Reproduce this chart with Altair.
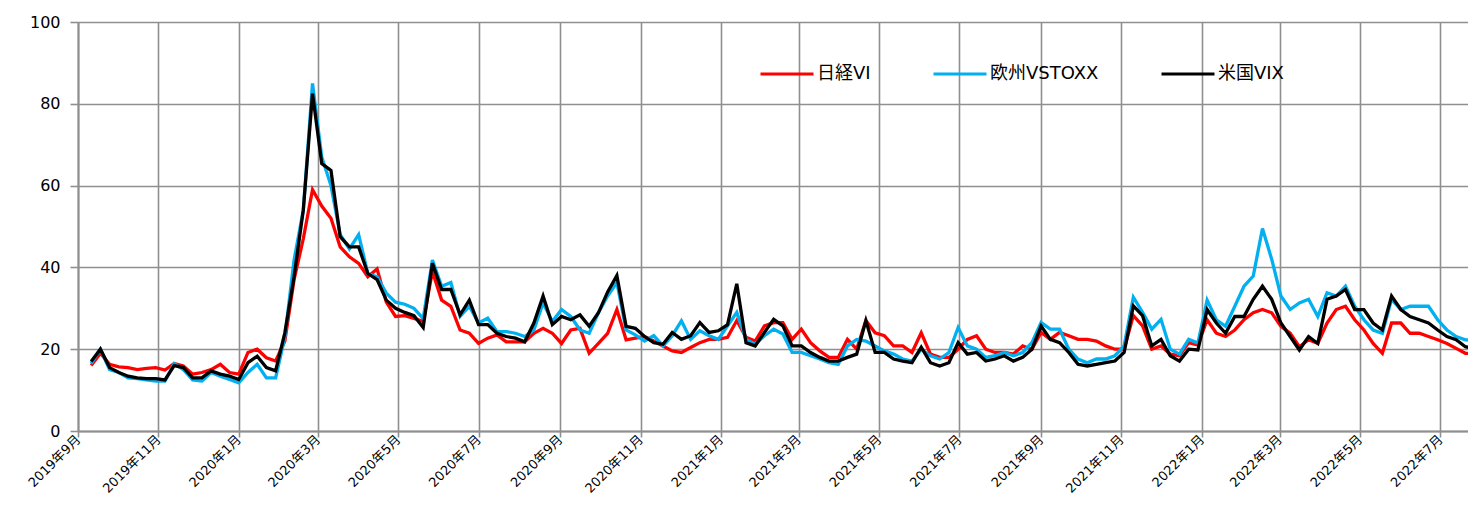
import altair as alt
import pandas as pd

# ---- data (weekly samples) ----
start_date = "2019-09-11"
series_names = ["日経VI", "欧州VSTOXX", "米国VIX"]
series_colors = ["#ff0000", "#00b0f0", "#000000"]

nikkei_vi = [16, 19, 16.3, 15.7, 15.5, 15, 15.3, 15.5, 14.9, 16.5,
             15.9, 13.9, 14.3, 15, 16.3, 14.3, 13.9, 19.2, 20, 17.9,
             17.1, 22, 37, 47, 59, 55, 52, 45, 42.6, 41,
             37.7, 39.6, 31.5, 28, 28.2, 27.5, 26.8, 39, 32, 30.5,
             24.7, 23.9, 21.4, 22.7, 23.5, 21.8, 21.8, 21.8, 23.9, 25.1,
             23.9, 21.4, 24.7, 25.1, 19, 21.4, 23.9, 29.7, 22.3, 22.7,
             23.1, 22, 20.8, 19.6, 19.2, 20.4, 21.6, 22.4, 22.4, 22.9,
             27, 22.9, 22, 25.7, 26.5, 26.5, 22.4, 24.9, 21.6, 19.6,
             18, 18, 22.4, 20, 27, 24, 23.3, 20.8, 20.8, 19.2,
             24, 18.8, 18, 18, 20, 22.4, 23.3, 20, 19.2, 19.2,
             18.8, 20.8, 20, 24.1, 22.4, 24.1, 23.3, 22.4, 22.4, 22,
             20.8, 20, 20, 28.2, 25.7, 20, 20.8, 18.8, 18.4, 21.6,
             21, 27.2, 23.9, 23.1, 24.7, 27.2, 28.9, 29.7, 28.9, 25.6,
             23.9, 20.6, 22.3, 21.4, 26.4, 29.7, 30.5, 27.2, 24.7, 21.4,
             19, 26.4, 26.4, 23.9, 23.9, 23.1, 22.3, 21.4, 20.2, 19,
             19]

vstoxx = [16.5, 20, 15, 14.3, 13, 12.8, 12.5, 12.2, 12.2, 16.5,
          15, 12.5, 12.2, 14.3, 13.4, 12.6, 11.8, 14.3, 16.3, 13,
          13, 23, 41.8, 54, 85, 67, 60, 48, 44.5, 48,
          38.5, 37.7, 33.7, 31.5, 31, 30, 27.5, 41.8, 35.4, 36.3,
          28, 30.5, 26.4, 27.6, 24.3, 24.3, 23.9, 23.1, 24.7, 31.3,
          26.8, 29.7, 28, 24.7, 23.9, 28.9, 33, 36.3, 24.7, 23.5,
          22, 23.3, 20.8, 23.3, 26.9, 22.4, 24.5, 23.3, 22.4, 25.7,
          29, 22.4, 21.2, 23.3, 24.9, 23.7, 19.2, 19.2, 18.4, 17.6,
          16.7, 16.3, 20.8, 22.4, 22, 20.8, 19.6, 18.8, 17.6, 17.1,
          20, 18.4, 17.6, 19.2, 25.3, 20.8, 20, 18, 18.4, 19.2,
          18.4, 19.2, 21.6, 26.5, 24.9, 24.9, 20, 17.6, 16.7, 17.6,
          17.6, 18.4, 20.8, 32.7, 29, 24.9, 27.3, 20, 18.8, 22.4,
          21.5, 32, 27.2, 25.6, 30.5, 35.4, 37.9, 49.5, 42, 33,
          29.7, 31.3, 32.2, 28, 33.8, 33, 35.4, 30.5, 27.2, 24.7,
          23.9, 32.2, 29.7, 30.5, 30.5, 30.5, 27.2, 24.7, 23.1, 22.3,
          22.3]

vix = [17, 20, 15.5, 14.3, 13.4, 13, 12.8, 12.8, 12.5, 16,
       15.5, 13, 13, 14.7, 13.9, 13.4, 12.6, 16.7, 18.3, 15.5,
       14.7, 24, 37.7, 54, 82.5, 65.4, 63.7, 47.5, 45, 45,
       38.5, 37, 32, 30, 29, 28.2, 25.3, 41, 34.6, 34.6,
       28.4, 32, 26, 26, 23.9, 23.1, 22.7, 21.8, 26.4, 33,
       26, 28, 27.2, 28.4, 25.6, 28.9, 34, 38, 25.6, 25.1,
       23.1, 21.6, 21.2, 24.1, 22.4, 23.3, 26.5, 24.1, 24.5, 26,
       36, 21.6, 20.8, 24.1, 27.3, 25.7, 20.8, 20.8, 19.2, 18,
       17.1, 17.1, 18, 18.8, 27, 19.2, 19.2, 17.6, 17.1, 16.7,
       20.5, 16.7, 15.9, 16.7, 21.6, 18.8, 19.2, 17.1, 17.6, 18.4,
       17.1, 18, 20, 25.7, 22.4, 21.6, 19.2, 16.3, 15.9, 16.3,
       16.7, 17.1, 19.2, 30.6, 28.2, 20.8, 22.4, 18.4, 17.1, 20,
       19.8, 29.7, 26.4, 23.9, 28, 28, 32.2, 35.4, 32.2, 26.4,
       23.1, 19.8, 23.1, 21.4, 32.2, 33, 34.6, 29.7, 29.7, 26.4,
       24.7, 33, 29.7, 28, 27.2, 26.4, 24.7, 23.1, 22.3, 20.6,
       20.2]

y_ticks = [0, 20, 40, 60, 80, 100]
x_tick_months = [(2019, 9), (2019, 11), (2020, 1), (2020, 3), (2020, 5), (2020, 7),
                 (2020, 9), (2020, 11), (2021, 1), (2021, 3), (2021, 5), (2021, 7),
                 (2021, 9), (2021, 11), (2022, 1), (2022, 3), (2022, 5), (2022, 7)]

# ---- build table ----
dates = pd.date_range(start_date, periods=len(vix), freq="7D").strftime("%Y/%m/%d")
rows = []
for name, vals in zip(series_names, [nikkei_vi, vstoxx, vix]):
    for d, v in zip(dates, vals):
        rows.append({"date": d, "series": name, "value": v})
df = pd.DataFrame(rows)

GRID = "#8f8f8f"
FONT = "DejaVu Sans, Noto Sans CJK JP"

color_scale = alt.Scale(domain=series_names, range=series_colors)
legend = alt.Legend(
    title=None, orient="none", direction="horizontal",
    legendX=681, legendY=24,
    symbolType="stroke", symbolSize=2809, symbolStrokeWidth=3,
    labelFontSize=18, labelFont=FONT, labelColor="#000000",
    labelOffset=2, columnPadding=56, padding=0,
)

base = alt.Chart(df).mark_line(strokeWidth=3.3, clip=True).encode(
    x=alt.X(
        "date:T",
        title=None,
        scale=alt.Scale(domain=[alt.DateTime(year=2019, month=9, date=1),
                                alt.DateTime(year=2022, month=7, date=22)]),
        axis=alt.Axis(
            values=[alt.DateTime(year=y, month=m, date=1) for y, m in x_tick_months],
            format="%Y年%-m月", labelAngle=-45, labelFontSize=13, labelFont=FONT,
            labelOverlap=False, tickSize=6, labelPadding=0, labelFlush=False,
            labelAlign="right", labelBaseline="middle",
        ),
    ),
    y=alt.Y(
        "value:Q",
        title=None,
        scale=alt.Scale(domain=[0, 100], nice=False),
        axis=alt.Axis(values=y_ticks, labelFontSize=16, labelFont="DejaVu Sans",
                      tickSize=8, labelPadding=10),
    ),
    color=alt.Color("series:N", scale=color_scale, legend=legend),
)

layers = [base.transform_filter(alt.datum.series == n) for n in series_names]

chart = alt.layer(*layers).properties(
    width=1390, height=409,
    autosize=alt.AutoSizeParams(type="none"),
    padding={"left": 70, "top": 14, "right": 0, "bottom": 66},
).configure_view(stroke=None).configure_axis(
    gridColor=GRID, gridWidth=1.6, gridOpacity=1,
    domainColor=GRID, domainWidth=2,
    tickColor=GRID, tickWidth=1.6,
    labelColor="#000000",
)

chart.save("out.html", embed_options={"renderer": "svg", "actions": False})
